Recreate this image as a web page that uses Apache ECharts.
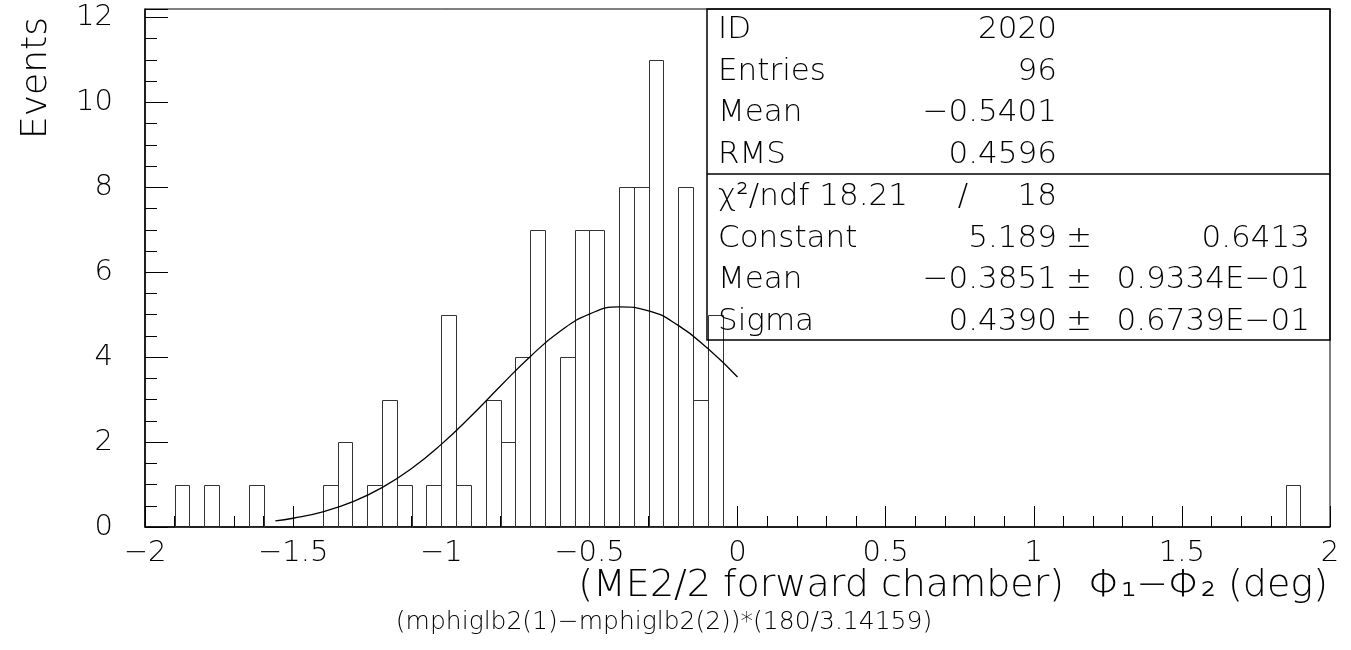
<!DOCTYPE html>
<html>
<head>
<meta charset="utf-8">
<script src="https://cdn.jsdelivr.net/npm/echarts@6/dist/echarts.min.js"></script>
<style>
html,body{margin:0;padding:0;background:#fff;}
#chart{width:1351px;height:650px;}
</style>
</head>
<body>
<div id="chart"></div>
<script>
// ---- data ----
const binWidth = 0.05;
const binLow = [-1.90,-1.80,-1.65,-1.40,-1.35,-1.25,-1.20,-1.15,-1.05,-1.00,-0.95,-0.85,-0.80,-0.75,-0.70,-0.60,-0.55,-0.50,-0.40,-0.35,-0.30,-0.20,-0.15,-0.10,1.85];
const binCount = [1,1,1,1,2,1,3,1,1,5,1,3,2,4,7,4,7,7,8,8,11,8,3,5,1];

const fitX = [-1.56,-1.5,-1.4,-1.3,-1.2,-1.1,-1.0,-0.9,-0.8,-0.7,-0.6,-0.5,-0.4,-0.3,-0.2,-0.1,0.0];
const fitY = [0.144,0.206,0.359,0.591,0.927,1.378,1.946,2.608,3.320,4.012,4.603,5.014,5.186,5.092,4.748,4.202,3.532];

const xTickValues = [-2,-1.5,-1,-0.5,0,0.5,1,1.5,2];
const xTickLabels = ['−2','−1.5','−1','−0.5','0','0.5','1','1.5','2'];
const yTickValues = [0,2,4,6,8,10,12];
const yTickLabels = ['0','2','4','6','8','10','12'];

const statLabels = ['ID','Entries','Mean','RMS'];
const statValues = ['2020','96','−0.5401','0.4596'];
const chi2Text = 'χ²/ndf 18.21';
const ndfText = '18';
const fitLabels = ['Constant','Mean','Sigma'];
const fitValues = ['5.189','−0.3851','0.4390'];
const fitErrors = ['0.6413','0.9334E−01','0.6739E−01'];

const xTitle = '(ME2/2 forward chamber)  Φ₁−Φ₂ (deg)';
const xSubTitle = '(mphiglb2(1)−mphiglb2(2))*(180/3.14159)';
const yTitle = 'Events';

// ---- chart ----
const FONT = 'DejaVu Sans';
const FW = 200;
const chart = echarts.init(document.getElementById('chart'), null, {renderer:'canvas'});

const histData = binLow.map((x,i)=>[x, x+binWidth, binCount[i]]);
const fitData = fitX.map((x,i)=>[x, fitY[i]]);

function lbl(values, labels){
  return function(v){
    for (let i=0;i<values.length;i++){ if (Math.abs(values[i]-v)<1e-6) return labels[i]; }
    return '';
  };
}

const graphics = [];
const boxL = 707, boxR = 1330, boxT = 9, boxMid = 174, boxB = 340;
graphics.push({type:'rect', shape:{x:boxL,y:boxT,width:boxR-boxL,height:boxB-boxT},
  style:{fill:'none',stroke:'#000',lineWidth:1.5}, z:10});
graphics.push({type:'line', shape:{x1:boxL,y1:boxMid,x2:boxR,y2:boxMid},
  style:{stroke:'#000',lineWidth:1.5}, z:10});
const rowY0 = 30, rowStep = 41.7;
const tStyle = (txt, x, y, align)=>({type:'text', x:x, y:y, z:11,
  style:{text:txt, font: FW+' 31px "'+FONT+'"', fill:'#000', textAlign:align, textVerticalAlign:'middle'}});
statLabels.forEach((s,i)=>{
  graphics.push(tStyle(s, 718, rowY0+i*rowStep, 'left'));
  graphics.push(tStyle(statValues[i], 1057, rowY0+i*rowStep, 'right'));
});
const fy0 = rowY0 + 4*rowStep;
graphics.push(tStyle(chi2Text, 718, fy0, 'left'));
graphics.push(tStyle('/', 963, fy0, 'center'));
graphics.push(tStyle(ndfText, 1057, fy0, 'right'));
fitLabels.forEach((s,i)=>{
  const y = fy0 + (i+1)*rowStep;
  graphics.push(tStyle(s, 718, y, 'left'));
  graphics.push(tStyle(fitValues[i], 1057, y, 'right'));
  graphics.push(tStyle('±', 1079, y, 'center'));
  graphics.push(tStyle(fitErrors[i], 1310, y, 'right'));
});
// axis titles
graphics.push({type:'text', x:37, y:78, rotation:Math.PI/2, z:11,
  style:{text:yTitle, font: FW+' 36px "'+FONT+'"', fill:'#000', textAlign:'center', textVerticalAlign:'middle'}});
graphics.push({type:'text', x:1328, y:586, z:11,
  style:{text:xTitle, font: FW+' 38px "'+FONT+'"', fill:'#000', textAlign:'right', textVerticalAlign:'middle'}});
graphics.push({type:'text', x:664, y:622, z:11,
  style:{text:xSubTitle, font: FW+' 25px "'+FONT+'"', fill:'#000', textAlign:'center', textVerticalAlign:'middle'}});

const option = {
  animation:false,
  backgroundColor:'#fff',
  grid:{left:145, right:21, top:9, bottom:123, show:true, borderColor:'#000', borderWidth:1, containLabel:false},
  xAxis:{type:'value', min:-2, max:2, interval:0.5,
    axisLine:{show:true, onZero:false, lineStyle:{color:'#000', width:1.5}},
    axisTick:{show:true, inside:true, length:21, lineStyle:{color:'#000'}},
    minorTick:{show:true, splitNumber:5, length:11, lineStyle:{color:'#000'}},
    splitLine:{show:false}, minorSplitLine:{show:false},
    axisLabel:{margin:12, fontSize:29, fontFamily:FONT, fontWeight:FW, color:'#000', formatter:lbl(xTickValues,xTickLabels)}
  },
  yAxis:[{type:'value', min:0, max:12.2, interval:2, position:'left',
    axisLine:{show:true, onZero:false, lineStyle:{color:'#000', width:1.5}},
    axisTick:{show:true, inside:true, length:23, lineStyle:{color:'#000'}},
    splitLine:{show:false},
    axisLabel:{margin:32, fontSize:29, fontFamily:FONT, fontWeight:FW, color:'#000', formatter:lbl(yTickValues,yTickLabels)}
  },{type:'value', min:0, max:12.2, interval:0.5, position:'left', offset:0, alignTicks:false,
    axisLine:{show:false, onZero:false}, axisLabel:{show:false}, splitLine:{show:false},
    axisTick:{show:true, inside:true, length:12, lineStyle:{color:'#000'}}
  }],
  series:[{
    type:'custom', name:'hist', data:histData, xAxisIndex:0, yAxisIndex:0,
    encode:{x:[0,1], y:2},
    renderItem:function(params, api){
      const p0 = api.coord([api.value(0), api.value(2)]);
      const p1 = api.coord([api.value(1), 0]);
      const x = Math.round(p0[0])+0.5, y = Math.round(p0[1])+0.5;
      const w = Math.round(p1[0]) - Math.round(p0[0]);
      const h = Math.round(p1[1]) - Math.round(p0[1]);
      return {type:'rect', shape:{x:x, y:y, width:w, height:h},
        style:{fill:'none', stroke:'#333', lineWidth:1}};
    }
  },{
    type:'line', name:'fit', data:fitData, smooth:true, symbol:'none',
    lineStyle:{color:'#000', width:1.3}, z:5
  }],
  graphic: graphics
};
chart.setOption(option);
</script>
</body>
</html>
